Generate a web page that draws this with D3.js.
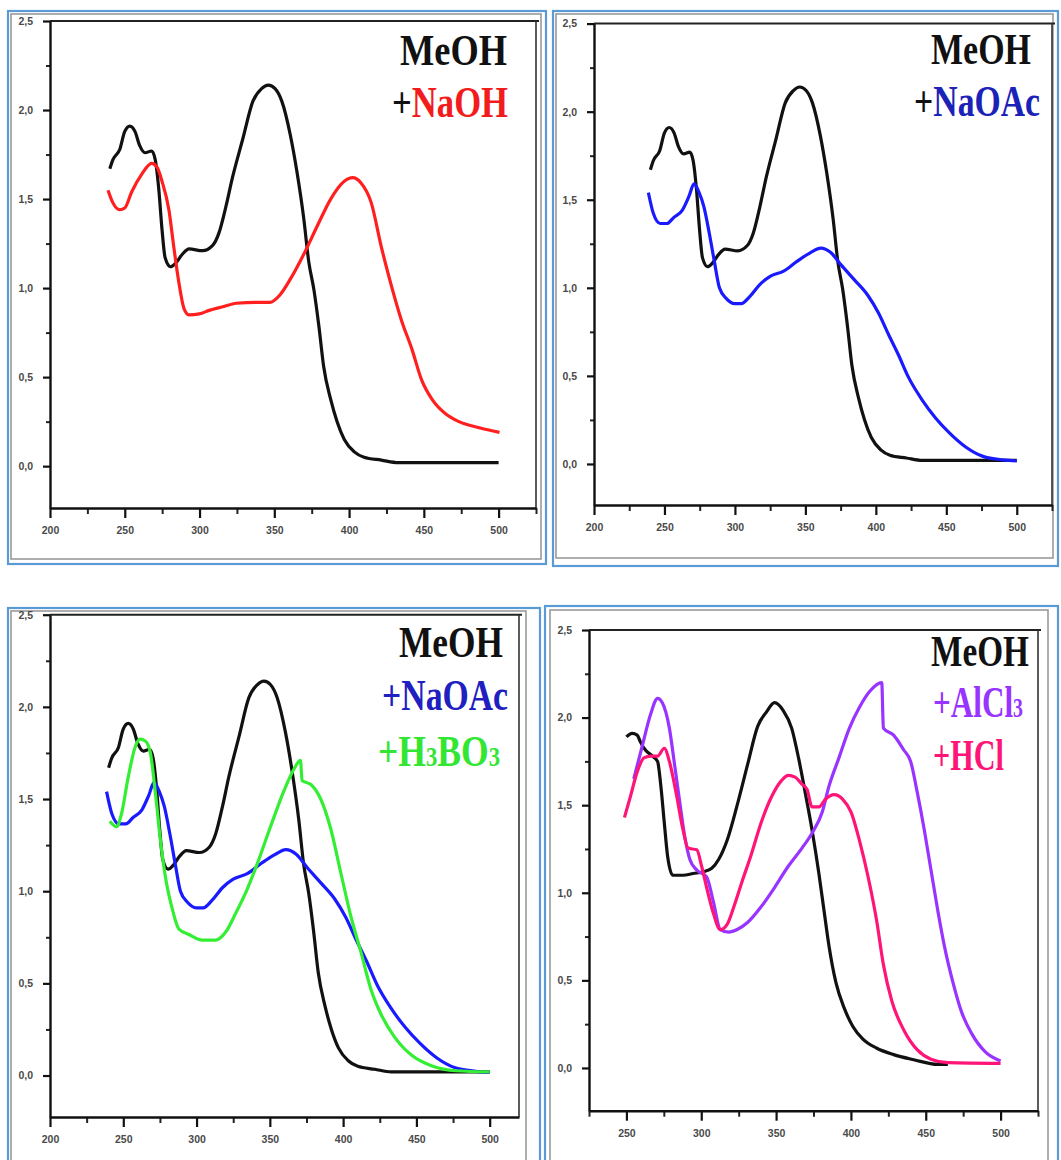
<!DOCTYPE html>
<html>
<head>
<meta charset="utf-8">
<script src="https://cdn.jsdelivr.net/npm/d3@7/dist/d3.min.js"></script>
<style>
  body { margin: 0; background: #fff; }
  svg { display: block; }
  .tick text { font-family: "Liberation Sans", Arial, sans-serif; font-size: 10.5px; font-weight: bold; fill: #4a4a4a; }
  .legend { font-family: "Liberation Serif", "Times New Roman", serif; font-weight: bold; }
</style>
</head>
<body>
<div id="chart"></div>
<script>
// ---- data (wavelength nm / absorbance) ----
var meohWl  = [240, 242, 246.7, 250, 253.4, 256.8, 260, 263.6, 268, 270.4, 272.7, 274.9, 277, 280.6, 284, 288.5, 293, 302, 308.8, 313, 317.7, 322, 329, 335.7, 341.5, 346, 350.5, 355, 360.7, 365, 369.7, 373, 376.5, 379.9, 383, 387.7, 392, 396.8, 403.5, 410, 421.6, 432.9, 500];
var meohAbs = [1.67, 1.72, 1.78, 1.88, 1.91, 1.88, 1.80, 1.76, 1.77, 1.72, 1.56, 1.33, 1.17, 1.12, 1.14, 1.19, 1.22, 1.21, 1.24, 1.31, 1.46, 1.62, 1.84, 2.05, 2.12, 2.14, 2.12, 2.05, 1.86, 1.66, 1.39, 1.15, 0.99, 0.78, 0.56, 0.375, 0.25, 0.15, 0.08, 0.05, 0.034, 0.02, 0.02];

var naohWl  = [238.8, 242, 246.7, 250, 254.6, 261.4, 268, 271.5, 274.9, 279.5, 282.8, 286.2, 289.6, 293, 299.8, 306.5, 315.5, 324.6, 338, 347, 353.6, 360.7, 369.7, 378.8, 387.7, 396.8, 402.4, 408, 414.8, 421.6, 428.4, 435, 441.9, 448.7, 455.5, 464.5, 473.5, 487, 500.6];
var naohAbs = [1.55, 1.48, 1.44, 1.45, 1.54, 1.64, 1.70, 1.68, 1.60, 1.44, 1.23, 1.03, 0.885, 0.85, 0.855, 0.875, 0.895, 0.915, 0.92, 0.92, 0.96, 1.05, 1.19, 1.35, 1.50, 1.60, 1.62, 1.59, 1.48, 1.23, 1.01, 0.82, 0.66, 0.48, 0.375, 0.294, 0.25, 0.216, 0.19];

var naoacWl  = [238.6, 242.2, 247, 251.7, 256.7, 262.6, 267.4, 271, 274.6, 278, 281.8, 285.4, 289, 293.8, 299.8, 304.5, 310.5, 317.8, 325, 334.6, 344, 353.7, 360.9, 368, 375.3, 384.8, 394.5, 401.7, 409, 416, 423.3, 432.9, 442.5, 452, 464, 476, 490.4, 500];
var naoacAbs = [1.54, 1.42, 1.365, 1.365, 1.40, 1.44, 1.52, 1.59, 1.54, 1.46, 1.31, 1.15, 1.00, 0.94, 0.91, 0.91, 0.95, 1.02, 1.065, 1.095, 1.15, 1.20, 1.225, 1.20, 1.13, 1.045, 0.955, 0.86, 0.735, 0.62, 0.49, 0.363, 0.26, 0.178, 0.095, 0.043, 0.023, 0.017];

var boricWl  = [240.8, 245.4, 248.8, 253.4, 258, 261.5, 265, 268.4, 271.8, 275.3, 278.7, 283.4, 287.9, 294.8, 304, 313, 320, 327, 334, 341, 350, 359.4, 366.3, 370.9, 372, 377.8, 384.7, 391.5, 398.4, 405.4, 412.3, 419, 426, 435, 446.8, 460.7, 476.8, 500];
var boricAbs = [1.38, 1.35, 1.42, 1.62, 1.78, 1.825, 1.815, 1.755, 1.54, 1.28, 1.08, 0.905, 0.795, 0.765, 0.735, 0.735, 0.78, 0.885, 1.00, 1.14, 1.34, 1.54, 1.66, 1.71, 1.60, 1.58, 1.50, 1.34, 1.10, 0.86, 0.665, 0.467, 0.33, 0.21, 0.11, 0.052, 0.026, 0.02];

var meoh2Wl  = [250, 253.8, 257.2, 259.4, 262.7, 267.4, 270.8, 273, 275.3, 277.5, 281, 287.8, 294.6, 301.4, 307, 311.6, 317.3, 324, 330.9, 337.7, 343.4, 349, 354.8, 360.4, 365, 369.5, 374, 378.6, 382, 385.4, 390, 395.6, 401.3, 408, 417, 428.5, 442, 458, 464.8];
var meoh2Abs = [1.89, 1.91, 1.90, 1.86, 1.815, 1.78, 1.75, 1.61, 1.40, 1.21, 1.10, 1.10, 1.11, 1.12, 1.14, 1.19, 1.30, 1.50, 1.73, 1.95, 2.03, 2.085, 2.04, 1.94, 1.77, 1.57, 1.36, 1.11, 0.90, 0.694, 0.487, 0.34, 0.237, 0.165, 0.114, 0.076, 0.047, 0.02, 0.02];

var alcl3Wl  = [254.9, 260.5, 266.2, 270.8, 274, 278.7, 282.2, 285.6, 289, 292.4, 297, 303.6, 308.2, 312.7, 318.4, 324, 330.9, 340, 349, 358, 367.3, 374, 380.8, 385.4, 392, 399, 405.8, 412.6, 420.6, 421.7, 428.5, 435.3, 439.9, 444.4, 449, 453.5, 458, 462.5, 468.2, 473.9, 480.7, 489.8, 500];
var alcl3Abs = [1.65, 1.835, 2.02, 2.11, 2.085, 1.94, 1.73, 1.52, 1.32, 1.19, 1.13, 1.09, 0.945, 0.79, 0.775, 0.79, 0.83, 0.92, 1.03, 1.15, 1.255, 1.34, 1.46, 1.61, 1.77, 1.94, 2.06, 2.15, 2.20, 1.94, 1.90, 1.815, 1.75, 1.57, 1.36, 1.13, 0.90, 0.694, 0.487, 0.32, 0.196, 0.092, 0.04];

var hclWl  = [248.7, 252.7, 257.2, 261.7, 266.2, 270.8, 275.3, 278.7, 283.2, 287.8, 291.2, 297, 300.3, 303.6, 308.2, 312.7, 317.3, 321.8, 327.5, 333.1, 340, 346.8, 353.6, 358.2, 362.7, 367.3, 370.7, 374, 378.6, 383.1, 388.8, 394.4, 400.1, 405.8, 411.5, 417.2, 421.7, 427.4, 435.3, 444.4, 453.5, 464.8, 500];
var hclAbs = [1.43, 1.55, 1.69, 1.77, 1.78, 1.78, 1.825, 1.75, 1.57, 1.36, 1.255, 1.245, 1.15, 1.03, 0.88, 0.79, 0.82, 0.92, 1.07, 1.21, 1.40, 1.545, 1.64, 1.67, 1.66, 1.62, 1.59, 1.49, 1.49, 1.535, 1.56, 1.535, 1.46, 1.295, 1.09, 0.84, 0.59, 0.38, 0.217, 0.103, 0.05, 0.03, 0.026];

var yMajor = [0, 0.5, 1.0, 1.5, 2.0, 2.5];
var yMinor = [0.25, 0.75, 1.25, 1.75, 2.25];

var colBlack = "#111111", colRed = "#ff1f1f", colBlue = "#1a1aff", colGreen = "#33ee33",
    colPurple = "#9933ff", colPink = "#ff1477";

function zip(wl, ab){ return wl.map(function(w, i){ return {x: w, y: ab[i]}; }); }

var panels = [
  {
    border: [8, 11, 538, 553], gray: [11, 14, 530, 545],
    xDom: [200, 525], xRange: [50, 536], yDom: [-0.235, 2.5], yRange: [508, 21],
    xMajor: [200, 250, 300, 350, 400, 450, 500], xMinor: [225, 275, 325, 375, 425, 475, 525],
    series: [ {d: zip(meohWl, meohAbs), c: colBlack}, {d: zip(naohWl, naohAbs), c: colRed} ],
    legend: [
      {y: 65, x: 507, w: 107, parts: [["MeOH", "#111"]]},
      {y: 117, x: 508, w: 116, parts: [["+", "#111"], ["NaOH", "#f21c1c"]]}
    ]
  },
  {
    border: [553, 11, 505, 555], gray: [556, 14, 497, 544],
    xDom: [200, 525], xRange: [594, 1052], yDom: [-0.233, 2.5], yRange: [505, 23.6],
    xMajor: [200, 250, 300, 350, 400, 450, 500], xMinor: [225, 275, 325, 375, 425, 475, 525],
    series: [ {d: zip(meohWl, meohAbs), c: colBlack}, {d: zip(naoacWl, naoacAbs), c: colBlue} ],
    legend: [
      {y: 64, x: 1031, w: 100, parts: [["MeOH", "#111"]]},
      {y: 116, x: 1040, w: 126, parts: [["+", "#111"], ["NaOAc", "#1b22b8"]]}
    ]
  },
  {
    border: [8, 608, 532, 600], gray: [11, 611, 515, 600],
    xDom: [200, 520], xRange: [50, 519], yDom: [-0.225, 2.5], yRange: [1117, 614.7],
    xMajor: [200, 250, 300, 350, 400, 450, 500], xMinor: [225, 275, 325, 375, 425, 475],
    series: [ {d: zip(meohWl, meohAbs), c: colBlack}, {d: zip(naoacWl, naoacAbs), c: colBlue}, {d: zip(boricWl, boricAbs), c: colGreen} ],
    legend: [
      {y: 657, x: 503, w: 104, parts: [["MeOH", "#111"]]},
      {y: 710, x: 508, w: 126, parts: [["+NaOAc", "#2020c0"]]},
      {y: 766, x: 500, w: 122, parts: [["+H", "#33e633"], ["3", "#33e633", 1], ["BO", "#33e633"], ["3", "#33e633", 1]]}
    ]
  },
  {
    border: [545, 606, 513, 600], gray: [550, 610, 498, 600],
    xDom: [225, 525], xRange: [589, 1038], yDom: [-0.244, 2.5], yRange: [1110.7, 630],
    xMajor: [250, 300, 350, 400, 450, 500], xMinor: [225, 275, 325, 375, 425, 475, 525],
    series: [ {d: zip(meoh2Wl, meoh2Abs), c: colBlack}, {d: zip(alcl3Wl, alcl3Abs), c: colPurple}, {d: zip(hclWl, hclAbs), c: colPink} ],
    legend: [
      {y: 666, x: 1029, w: 98, parts: [["MeOH", "#111"]]},
      {y: 717, x: 1023, w: 90, parts: [["+AlCl", "#9933ff"], ["3", "#9933ff", 1]]},
      {y: 770, x: 1004, w: 71, parts: [["+HCl", "#ff1477"]]}
    ]
  }
];

var svg = d3.select("#chart").append("svg")
  .attr("width", 1061)
  .attr("height", 1160);

panels.forEach(function(p){
  var g = svg.append("g");

  g.append("rect")
    .attr("x", p.border[0]).attr("y", p.border[1])
    .attr("width", p.border[2]).attr("height", p.border[3])
    .attr("fill", "none").attr("stroke", "#5b9bd5").attr("stroke-width", 2.2);
  g.append("rect")
    .attr("x", p.gray[0]).attr("y", p.gray[1])
    .attr("width", p.gray[2]).attr("height", p.gray[3])
    .attr("fill", "none").attr("stroke", "#9a9a9a").attr("stroke-width", 1.6);

  var x = d3.scaleLinear().domain(p.xDom).range(p.xRange);
  var y = d3.scaleLinear().domain(p.yDom).range(p.yRange);

  // top and right frame lines
  g.append("line")
    .attr("x1", p.xRange[0]).attr("x2", p.xRange[1] + 3)
    .attr("y1", p.yRange[1]).attr("y2", p.yRange[1])
    .attr("stroke", "#222").attr("stroke-width", 2);
  g.append("line")
    .attr("x1", p.xRange[1]).attr("x2", p.xRange[1])
    .attr("y1", p.yRange[1]).attr("y2", p.yRange[0])
    .attr("stroke", "#333").attr("stroke-width", 1.6);

  // minor ticks
  g.append("g")
    .attr("transform", "translate(0," + p.yRange[0] + ")")
    .call(d3.axisBottom(x).tickValues(p.xMinor).tickSize(6).tickFormat(""))
    .call(function(a){ a.select(".domain").remove(); a.selectAll("line").attr("stroke-width", 2).attr("stroke", "#222"); });
  g.append("g")
    .attr("transform", "translate(" + p.xRange[0] + ",0)")
    .call(d3.axisLeft(y).tickValues(yMinor).tickSize(4).tickFormat(""))
    .call(function(a){ a.select(".domain").remove(); a.selectAll("line").attr("stroke-width", 2).attr("stroke", "#222"); });

  // major axes
  g.append("g")
    .attr("transform", "translate(0," + p.yRange[0] + ")")
    .call(d3.axisBottom(x).tickValues(p.xMajor).tickSize(10).tickPadding(9).tickSizeOuter(0).tickFormat(d3.format("d")))
    .call(function(a){
      a.select(".domain").attr("stroke-width", 2.4).attr("stroke", "#111");
      a.selectAll("line").attr("stroke-width", 2.2).attr("stroke", "#111");
    });
  g.append("g")
    .attr("transform", "translate(" + p.xRange[0] + ",0)")
    .call(d3.axisLeft(y).tickValues(yMajor).tickSize(7).tickPadding(10).tickSizeOuter(0)
      .tickFormat(function(d){ return d3.format(".1f")(d).replace(".", ","); }))
    .call(function(a){
      a.select(".domain").attr("stroke-width", 2.4).attr("stroke", "#111");
      a.selectAll("line").attr("stroke-width", 2.2).attr("stroke", "#111");
    });

  var line = d3.line()
    .x(function(d){ return x(d.x); })
    .y(function(d){ return y(d.y); })
    .curve(d3.curveMonotoneX);

  p.series.forEach(function(s){
    g.append("path")
      .datum(s.d)
      .attr("d", line)
      .attr("fill", "none")
      .attr("stroke", s.c)
      .attr("stroke-width", 3.2)
      .attr("stroke-linejoin", "round");
  });

  // legend: bold serif, squeezed horizontally to the width seen in the picture
  p.legend.forEach(function(l){
    var t = g.append("text")
      .attr("class", "legend")
      .attr("x", 0).attr("y", 0)
      .attr("text-anchor", "end")
      .attr("font-size", 44);
    l.parts.forEach(function(pt){
      t.append("tspan")
        .attr("fill", pt[1])
        .attr("font-size", pt[2] ? 28 : 44)
        .text(pt[0]);
    });
    var natural = t.node().getComputedTextLength();
    var sx = l.w / natural;
    t.attr("transform", "translate(" + l.x + "," + l.y + ") scale(" + sx.toFixed(3) + ",1)");
  });
});
</script>
</body>
</html>
